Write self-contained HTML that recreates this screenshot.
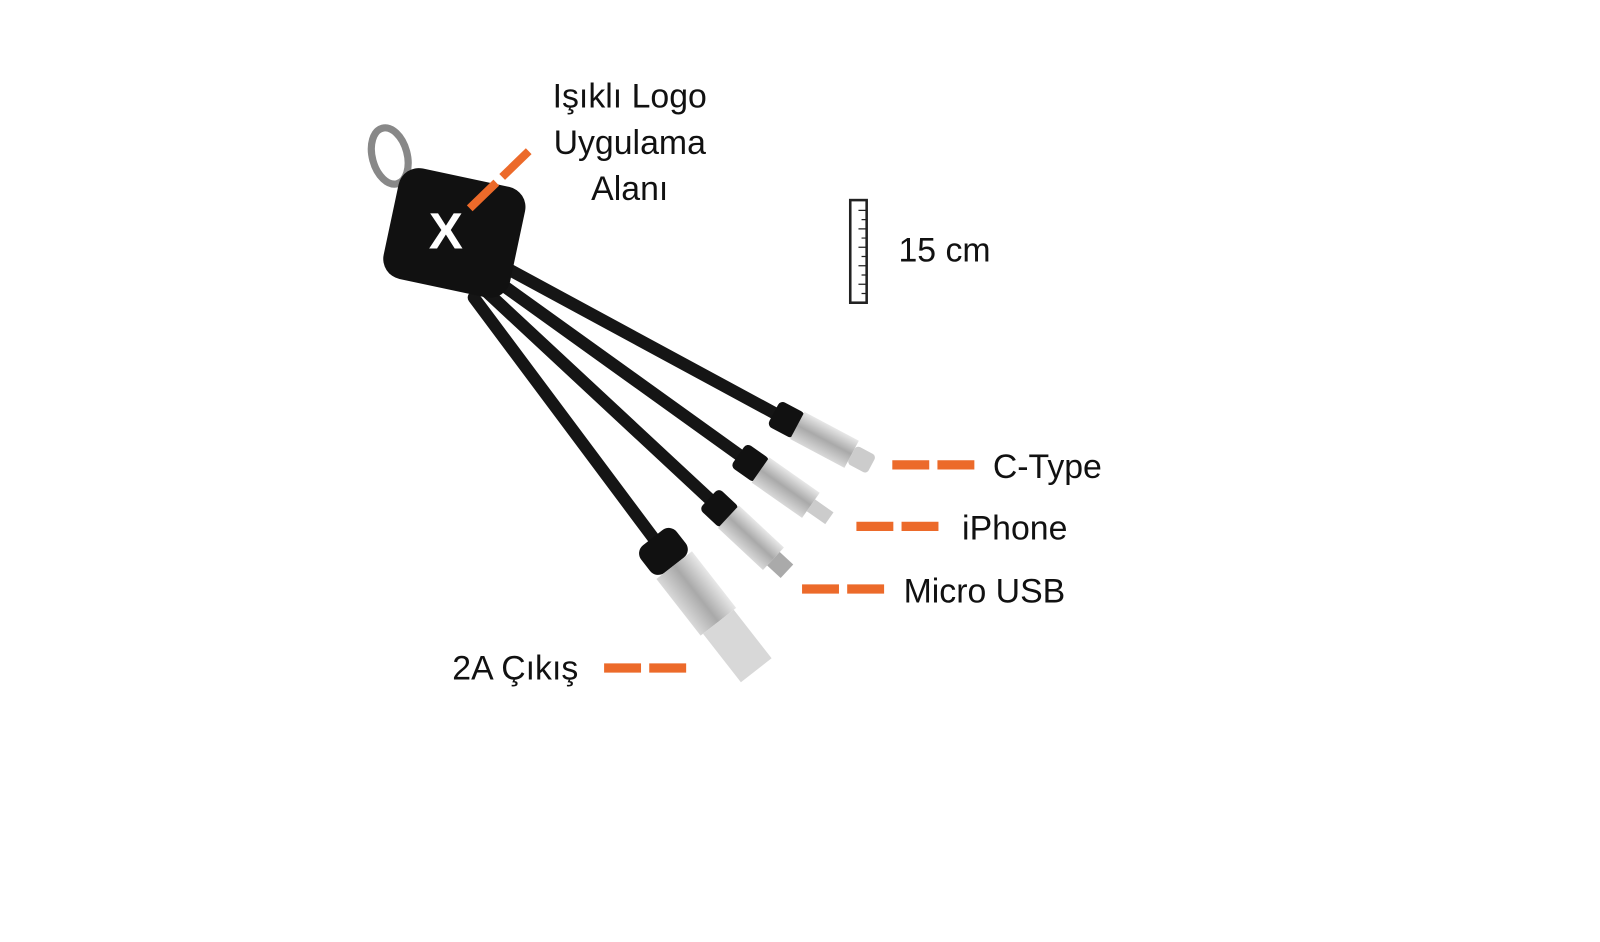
<!DOCTYPE html>
<html><head><meta charset="utf-8"><style>
html,body{margin:0;padding:0;background:#fff;width:1600px;height:942px;overflow:hidden}
svg{display:block}
text{font-family:"Liberation Sans",sans-serif;font-size:33px;fill:#111}
</style></head><body>
<svg width="1600" height="942" viewBox="0 0 1560 918" preserveAspectRatio="none">
<defs>
<linearGradient id="met" x1="0" y1="0" x2="0" y2="1">
<stop offset="0" stop-color="#e8e8e8"/><stop offset="0.5" stop-color="#a9a9a9"/><stop offset="1" stop-color="#d9d9d9"/></linearGradient>
</defs>
<!-- ring -->
<ellipse cx="380" cy="152" rx="17" ry="28" fill="none" stroke="#888" stroke-width="7" transform="rotate(-15 380 152)"/>
<!-- cables -->
<g stroke="#151515" stroke-width="12" stroke-linecap="round">
<line x1="495" y1="262" x2="765" y2="408"/>
<line x1="482" y1="272" x2="730" y2="450"/>
<line x1="472" y1="282" x2="700" y2="494"/>
<line x1="462" y1="290" x2="645" y2="535"/>
</g>
<!-- connectors -->
<g transform="translate(765 408) rotate(28)"><rect x="-12" y="-14" width="28" height="28" rx="5" fill="#111"/><rect x="14" y="-15" width="60" height="30" fill="url(#met)"/><rect x="74" y="-10" width="22" height="20" rx="4" fill="#ccc"/></g>
<g transform="translate(730 450) rotate(35)"><rect x="-12" y="-14" width="28" height="28" rx="5" fill="#111"/><rect x="14" y="-15" width="60" height="30" fill="url(#met)"/><rect x="74" y="-7" width="22" height="14" fill="#ccc"/></g>
<g transform="translate(700 494) rotate(43)"><rect x="-12" y="-14" width="28" height="28" rx="5" fill="#111"/><rect x="14" y="-15" width="60" height="30" fill="url(#met)"/><rect x="74" y="-9" width="18" height="18" fill="#aaa"/></g>
<g transform="translate(645 535) rotate(52)"><rect x="-14" y="-22" width="34" height="44" rx="10" fill="#111"/><rect x="20" y="-22" width="70" height="44" fill="url(#met)"/><rect x="90" y="-19" width="60" height="38" fill="#d8d8d8"/></g>
<!-- body -->
<rect x="380" y="172" width="126" height="110" rx="20" fill="#111" transform="rotate(12 443 227)"/>
<text x="418" y="242" style="font-size:50px;fill:#fff;font-weight:bold">X</text>
<!-- logo label -->
<text x="614" y="105" text-anchor="middle">Işıklı Logo</text>
<text x="614" y="150" text-anchor="middle">Uygulama</text>
<text x="614" y="195" text-anchor="middle">Alanı</text>
<line x1="458" y1="203" x2="520" y2="143" stroke="#ec6a2a" stroke-width="8" stroke-dasharray="36 8"/>
<!-- ruler -->
<rect x="829" y="195" width="16" height="100" fill="#fff" stroke="#222" stroke-width="2.5"/>
<g stroke="#222" stroke-width="1.2"><path d="M837 205h7M840 214h4M837 223h7M840 232h4M837 241h7M840 250h4M837 259h7M840 268h4M837 277h7M840 286h4"/></g>
<text x="876" y="255">15 cm</text>
<!-- dashes & labels -->
<g stroke="#ec6a2a" stroke-width="9" stroke-dasharray="36 8">
<line x1="870" y1="453" x2="954" y2="453"/>
<line x1="835" y1="513" x2="919" y2="513"/>
<line x1="782" y1="574" x2="866" y2="574"/>
<line x1="589" y1="651" x2="673" y2="651"/>
</g>
<text x="968" y="466">C-Type</text>
<text x="938" y="526">iPhone</text>
<text x="881" y="587">Micro USB</text>
<text x="441" y="662">2A Çıkış</text>
</svg>
</body></html>
